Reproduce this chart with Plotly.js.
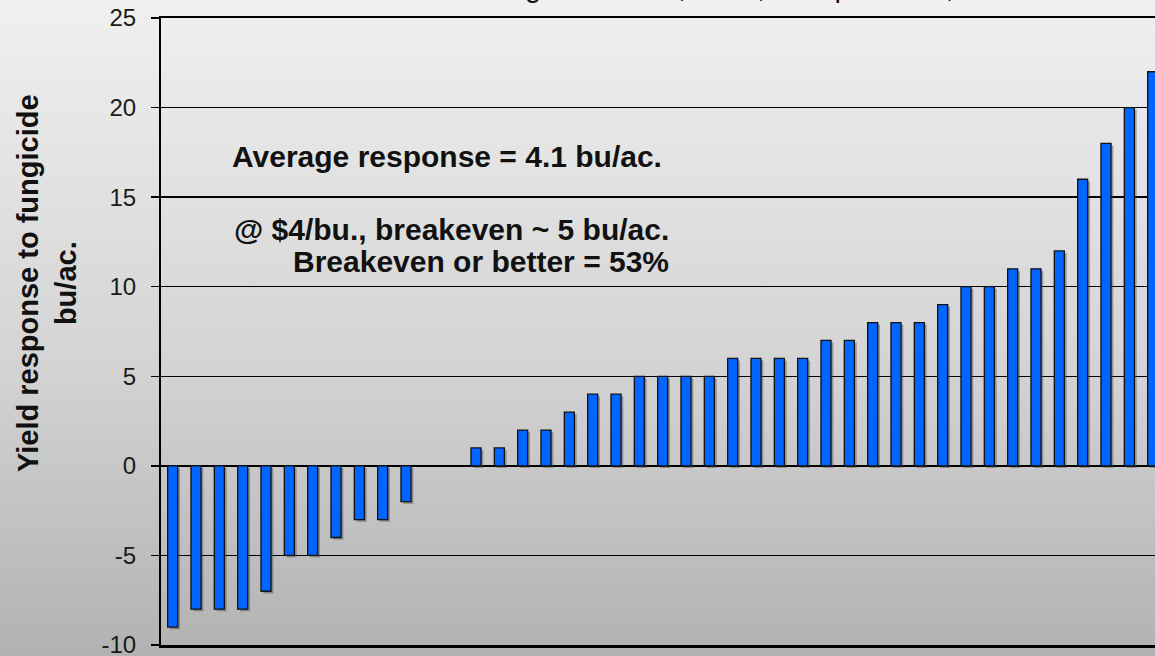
<!DOCTYPE html>
<html>
<head>
<meta charset="utf-8">
<script src="https://cdn.plot.ly/plotly-3.0.1.min.js"></script>
<style>
  html, body { margin: 0; padding: 0; }
  body { width: 1155px; height: 656px; overflow: hidden;
         background: linear-gradient(to bottom, #f0f0f0 0%, #d4d4d4 55%, #b2b2b2 100%); }
  #chart { width: 1155px; height: 656px; }
</style>
</head>
<body>
<div id="chart"></div>
<script>
// Yield response to fungicide (bu/ac.), one value per site, sorted
const responses = [-9, -8, -8, -8, -7, -5, -5, -4, -3, -3, -2, 0, 0,
  1, 1, 2, 2, 3, 4, 4, 5, 5, 5, 5, 6, 6, 6, 6, 7, 7, 8, 8, 8, 9, 10, 10, 11, 11, 12, 16, 18, 20, 22];
const sites = responses.map((v, i) => i);
const yTicks = [-10, -5, 0, 5, 10, 15, 20, 25];

const titleText = "Northeast US Results of Fungicide Trials, Corn, Multiple Sites, 2008";
const noteAverage = "Average response = 4.1 bu/ac.";
const noteBreakeven = "@ $4/bu., breakeven ~ 5 bu/ac.";
const noteBetter = "Breakeven or better = 53%";
const yTitle = "Yield response to fungicide<br>bu/ac.";

const W = 1155, H = 656, L = 161, R = 0, T = 18, B = 11;
const pw = W - L - R, ph = H - T - B;
const px = x => (x - L) / pw;
const py = y => (H - B - y) / ph;

const shadow = {
  type: 'bar', x: sites.map(s => s + 0.1), y: responses.map(v => v === 0 ? null : v),
  base: responses.map(() => -0.12), width: 0.43,
  marker: { color: 'rgba(70,70,70,0.45)', line: { width: 0 } },
  hoverinfo: 'skip', showlegend: false
};
const bars = {
  type: 'bar', x: sites, y: responses.map(v => v === 0 ? null : v), width: 0.43,
  marker: { color: '#0066ff', line: { color: '#111111', width: 1.3 } },
  showlegend: false
};

const layout = {
  width: W, height: H,
  margin: { l: L, r: R, t: T, b: B, pad: 0 },
  paper_bgcolor: 'rgba(0,0,0,0)', plot_bgcolor: 'rgba(0,0,0,0)',
  barmode: 'overlay', showlegend: false,
  xaxis: { range: [-0.5, 42.1], showticklabels: false, ticks: '', showgrid: false,
           zeroline: false, showline: true, mirror: true, linecolor: '#000', linewidth: 2.5, fixedrange: true },
  yaxis: { range: [-10, 25], tickvals: yTicks, ticktext: yTicks.map(String),
           ticks: 'outside', ticklen: 8, tickwidth: 1.5, tickcolor: '#000',
           ticklabelstandoff: 10, ticklabeloverflow: 'allow',
           tickfont: { family: 'Liberation Sans, Arial, sans-serif', size: 24, color: '#1a1a1a' },
           showgrid: true, gridcolor: '#000', gridwidth: 1.5,
           zeroline: true, zerolinecolor: '#000', zerolinewidth: 2.5,
           showline: true, linecolor: '#000', linewidth: 2, fixedrange: true },
  annotations: [
    { text: titleText, xref: 'paper', yref: 'paper', x: px(591), y: py(-13), xanchor: 'center', yanchor: 'middle',
      showarrow: false, font: { family: 'Liberation Sans, Arial, sans-serif', size: 29, color: '#111' } },
    { text: yTitle, xref: 'paper', yref: 'paper', x: px(47), y: py(283), xanchor: 'center', yanchor: 'middle',
      textangle: -90, showarrow: false,
      font: { family: 'Liberation Sans, Arial, sans-serif', size: 29, color: '#111', weight: 'bold' } },
    { text: '<b>' + noteAverage + '</b>', xref: 'paper', yref: 'paper', x: px(230), y: py(157), xanchor: 'left', yanchor: 'middle',
      showarrow: false, font: { family: 'Liberation Sans, Arial, sans-serif', size: 30, color: '#111' } },
    { text: '<b>' + noteBreakeven + '</b>', xref: 'paper', yref: 'paper', x: px(671), y: py(230), xanchor: 'right', yanchor: 'middle',
      showarrow: false, font: { family: 'Liberation Sans, Arial, sans-serif', size: 30, color: '#111' } },
    { text: '<b>' + noteBetter + '</b>', xref: 'paper', yref: 'paper', x: px(671), y: py(261), xanchor: 'right', yanchor: 'middle',
      showarrow: false, font: { family: 'Liberation Sans, Arial, sans-serif', size: 30, color: '#111' } }
  ]
};

Plotly.newPlot('chart', [shadow, bars], layout, { staticPlot: true, displayModeBar: false });
</script>
</body>
</html>
